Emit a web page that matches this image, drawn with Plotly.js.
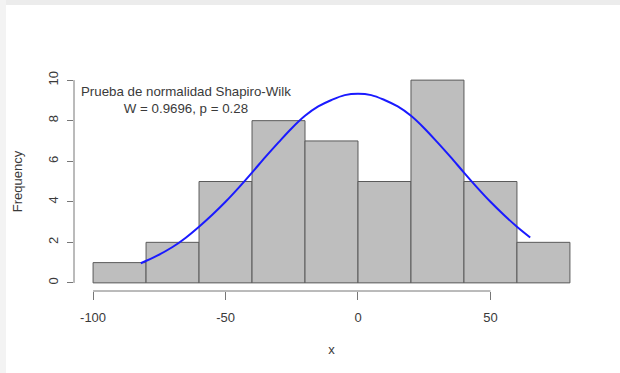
<!DOCTYPE html>
<html>
<head>
<meta charset="utf-8">
<script src="https://cdn.plot.ly/plotly-3.0.1.min.js"></script>
<style>
  html, body { margin: 0; padding: 0; background: #fff; }
  #chart { width: 620px; height: 373px; position: relative; }
  #topband { position: absolute; left: 0; top: 0; width: 620px; height: 5px; background: #ececec; z-index: 5; }
  #leftband { position: absolute; left: 0; top: 0; width: 6px; height: 373px; background: #f3f3f3; z-index: 5; }
</style>
</head>
<body>
<div id="topband"></div>
<div id="leftband"></div>
<div id="chart"></div>
<script>
// Histogram bins (edges) and counts
const binEdges = [-100, -80, -60, -40, -20, 0, 20, 40, 60, 80];
const counts   = [1, 2, 5, 8, 7, 5, 10, 5, 2];

// Fitted normal curve
const curveX = [-82, -76, -70, -65, -60, -55, -50, -45, -40, -35, -30, -25, -20, -15, -10, -5, 0, 5, 10, 15, 20, 25, 30, 35, 40, 45, 50, 55, 60, 65];
const curveY = [0.97, 1.33, 1.77, 2.23, 2.77, 3.36, 4.00, 4.70, 5.44, 6.20, 6.93, 7.63, 8.24, 8.70, 9.02, 9.26, 9.33, 9.26, 9.02, 8.70, 8.24, 7.63, 6.93, 6.20, 5.44, 4.70, 4.00, 3.36, 2.77, 2.24];

// Axis ticks
const xTicks = [-100, -50, 0, 50];
const yTicks = [0, 2, 4, 6, 8, 10];

const annText = ["Prueba de normalidad Shapiro-Wilk", "W = 0.9696, p = 0.28"];

const mids = counts.map((c, i) => (binEdges[i] + binEdges[i + 1]) / 2);
const widths = counts.map((c, i) => binEdges[i + 1] - binEdges[i]);

const textColor = '#3a3a3a';
const fontFam = 'Liberation Sans, Arial, sans-serif';

const traces = [
  {
    type: 'bar', x: mids, y: counts, width: widths,
    marker: { color: '#bebebe', line: { color: '#5a5a5a', width: 1 } },
    hoverinfo: 'skip'
  },
  {
    type: 'scatter', mode: 'lines', x: curveX, y: curveY,
    line: { color: '#1a1aff', width: 2, shape: 'spline' },
    hoverinfo: 'skip'
  }
];

const xr = [binEdges[0] - 0.04 * (binEdges[binEdges.length - 1] - binEdges[0]),
            binEdges[binEdges.length - 1] + 0.04 * (binEdges[binEdges.length - 1] - binEdges[0])];
const yr = [-0.04 * 10, 10 + 0.04 * 10];

const layout = {
  width: 620, height: 373,
  margin: { l: 74, r: 31, t: 72, b: 82 },
  paper_bgcolor: '#fff', plot_bgcolor: 'rgba(0,0,0,0)',
  showlegend: false,
  bargap: 0,
  font: { family: fontFam, size: 13, color: textColor },
  xaxis: {
    range: xr, tickmode: 'array', tickvals: xTicks, ticktext: xTicks.map(String),
    ticks: 'outside', ticklen: 8, tickwidth: 1, tickcolor: '#777',
    showgrid: false, zeroline: false, showline: false,
    ticklabelstandoff: 6,
    tickfont: { size: 13, color: textColor, family: fontFam },
    title: { text: 'x', standoff: 21, font: { size: 13, color: textColor, family: fontFam } },
    automargin: false, fixedrange: true
  },
  yaxis: {
    range: yr, tickmode: 'array', tickvals: yTicks, ticktext: yTicks.map(String),
    ticks: 'outside', ticklen: 6, tickwidth: 1, tickcolor: '#777',
    tickangle: -90,
    showgrid: false, zeroline: false, showline: false,
    ticklabelstandoff: 4,
    tickfont: { size: 13, color: textColor, family: fontFam },
    title: { text: 'Frequency', standoff: 20, font: { size: 13, color: textColor, family: fontFam } },
    automargin: false, fixedrange: true
  },
  shapes: [
    { type: 'line', xref: 'x', yref: 'paper', x0: xTicks[0], x1: xTicks[xTicks.length - 1], y0: 0, y1: 0,
      line: { color: '#777', width: 1 } },
    { type: 'line', xref: 'paper', yref: 'y', x0: 0, x1: 0, y0: yTicks[0], y1: yTicks[yTicks.length - 1],
      line: { color: '#777', width: 1 } }
  ],
  annotations: [
    { x: -65, y: 9.0, xref: 'x', yref: 'y', text: annText.join('<br>'), showarrow: false,
      align: 'center', font: { size: 13.3, color: textColor, family: fontFam } }
  ]
};

Plotly.newPlot('chart', traces, layout, { staticPlot: true, displayModeBar: false });
</script>
</body>
</html>
